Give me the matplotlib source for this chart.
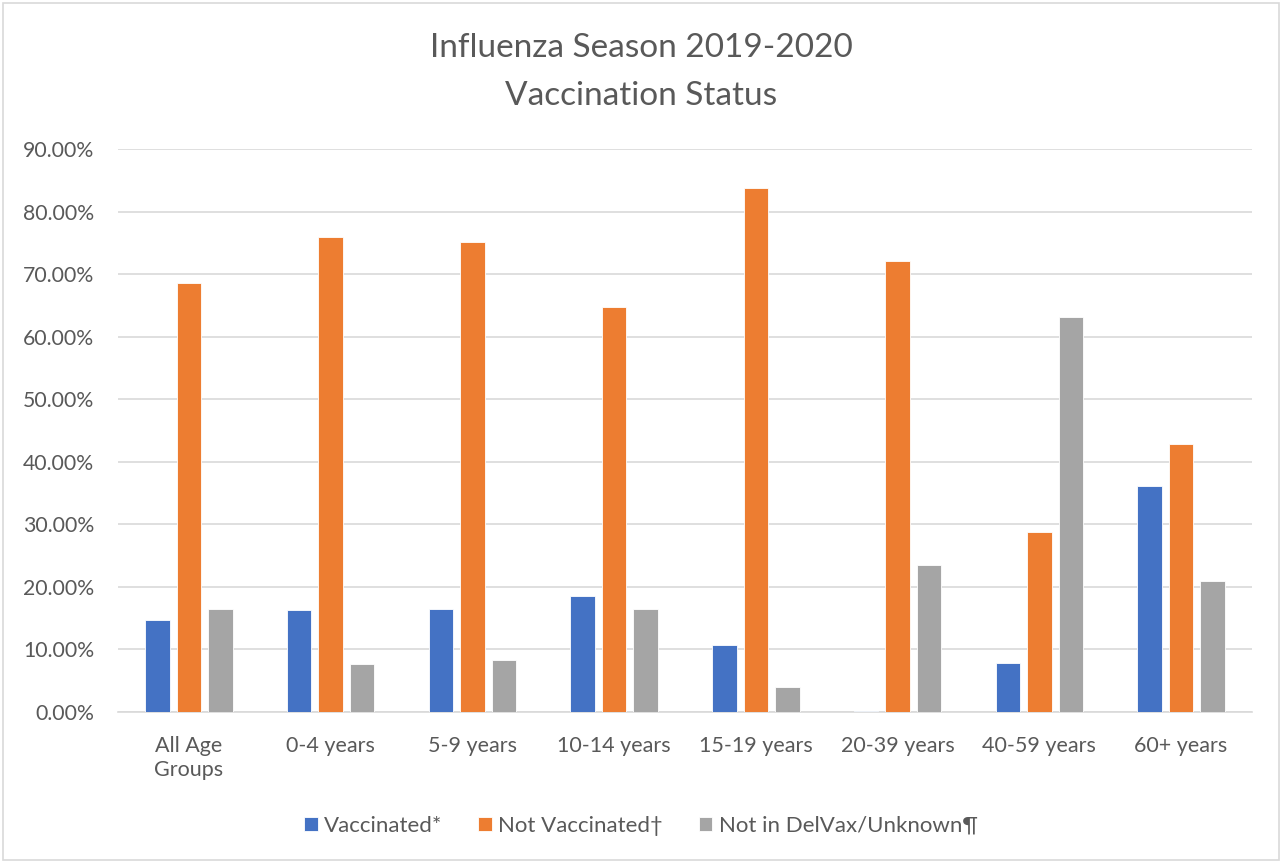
import matplotlib.pyplot as plt
import numpy as np
from matplotlib.patches import Rectangle
from matplotlib.ticker import FuncFormatter

plt.rcParams['font.family'] = ['Lato', 'DejaVu Sans']

# Data (percent)
categories = ['All Age\nGroups', '0-4 years', '5-9 years', '10-14 years',
              '15-19 years', '20-39 years', '40-59 years', '60+ years']
vaccinated = [14.7, 16.3, 16.4, 18.6, 10.7, 0.1, 7.9, 36.1]
not_vaccinated = [68.5, 75.9, 75.1, 64.7, 83.8, 72.1, 28.7, 42.8]
unknown = [16.5, 7.7, 8.3, 16.5, 3.95, 23.5, 63.1, 21.0]
series_names = ['Vaccinated*', 'Not Vaccinated\u2020', 'Not in DelVax/Unknown\u00b6']
colours = ['#4472c4', '#ed7d31', '#a5a5a5']

W, H = 1282, 863
fig = plt.figure(figsize=(W / 100, H / 100), dpi=100)
ax = fig.add_axes([118 / W, (H - 712) / H, 1134 / W, 563 / H])

x = np.arange(len(categories))
barW = 0.173
step = 0.222
for ii, vals in enumerate([vaccinated, not_vaccinated, unknown]):
    ax.bar(x + (ii - 1) * step, vals, width=barW, color=colours[ii],
           edgecolor='white', linewidth=0.6, label=series_names[ii], zorder=3)

ax.set_xlim(-0.5, len(categories) - 0.5)
ax.set_ylim(0, 90)
ax.set_yticks(np.arange(0, 91, 10))
ax.yaxis.set_major_formatter(FuncFormatter(lambda v, p: f'{v:.2f}%'))
ax.grid(axis='y', color='#d9d9d9', lw=1.2, zorder=0)
ax.set_xticks(x)
ax.set_xticklabels(categories, linespacing=1.3)
ax.tick_params(axis='both', length=0, labelcolor='#595959')
ax.tick_params(axis='x', pad=17, labelsize=15.5)
ax.tick_params(axis='y', pad=17, labelsize=15.3)
for s in ['top', 'left', 'right']:
    ax.spines[s].set_visible(False)
ax.spines['bottom'].set_color('#d9d9d9')
ax.spines['bottom'].set_linewidth(1.2)

# Title, two lines
fig.text(0.5, 1 - 48 / H, 'Influenza Season 2019-2020',
         ha='center', va='center', fontsize=24, color='#595959')
fig.text(0.5, 1 - 96 / H, 'Vaccination Status',
         ha='center', va='center', fontsize=24, color='#595959')

# Legend
leg = fig.legend(loc='center', bbox_to_anchor=(0.5, 1 - 826 / H), ncol=3,
                 frameon=False, fontsize=16, handlelength=0.6, handleheight=0.6,
                 columnspacing=1.6, handletextpad=0.3)
for t in leg.get_texts():
    t.set_color('#595959')

# Outer chart border
fig.patches.append(Rectangle((3 / W, 3 / H), (W - 6) / W, (H - 6) / H,
                             transform=fig.transFigure, fill=False,
                             edgecolor='#d9d9d9', lw=1.2))

fig.savefig('out.png', dpi=100, facecolor='white')
